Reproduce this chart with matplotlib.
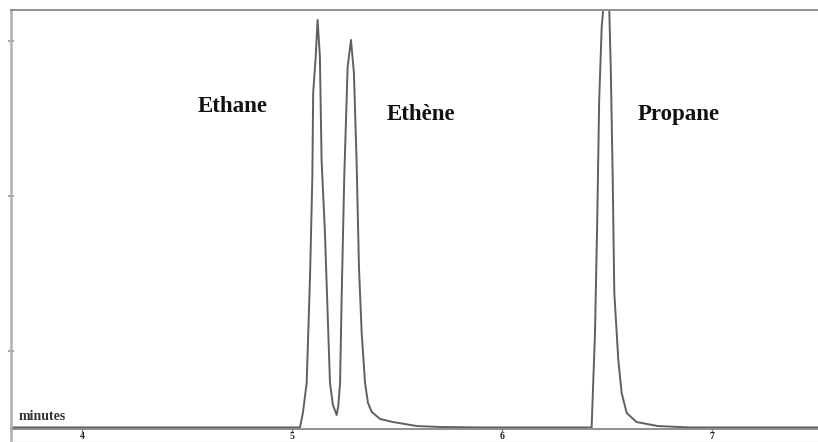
import matplotlib
matplotlib.use("Agg")
import matplotlib.pyplot as plt
from matplotlib.lines import Line2D

# Chromatogram trace (time in minutes, signal in arbitrary units)
time_min = [3.662, 5.038, 5.052, 5.070, 5.086, 5.097, 5.101, 5.113, 5.122, 5.133,
            5.141, 5.157, 5.173, 5.181, 5.195, 5.213, 5.221, 5.229, 5.237, 5.249,
            5.265, 5.281, 5.295, 5.308, 5.319, 5.332, 5.348, 5.362, 5.380, 5.419,
            5.481, 5.595, 5.705, 5.895, 6.427, 6.443, 6.454, 6.463, 6.475, 6.482,
            6.495, 6.511, 6.518, 6.527, 6.535, 6.554, 6.570, 6.594, 6.641, 6.743,
            6.895, 7.505]
signal = [0.010, 0.010, 0.103, 0.297, 0.981, 1.626, 2.168, 2.400, 2.639, 2.400,
          1.735, 1.265, 0.619, 0.297, 0.155, 0.090, 0.155, 0.297, 0.877, 1.626,
          2.335, 2.510, 2.297, 1.716, 1.045, 0.619, 0.297, 0.168, 0.110, 0.065,
          0.045, 0.019, 0.013, 0.010, 0.010, 0.619, 1.368, 2.123, 2.594, 2.703,
          4.060, 2.703, 2.335, 1.652, 0.877, 0.445, 0.232, 0.103, 0.045, 0.019,
          0.010, 0.010]

peak_names = ["Ethane", "Ethène", "Propane"]
label_time = [4.552, 5.452, 6.648]
label_signal = [2.045, 1.994, 1.994]

x_ticks = [4, 5, 6, 7]
y_ticks = [0.5, 1.5, 2.5]

W, H = 818, 442
fig = plt.figure(figsize=(W / 100, H / 100), dpi=100)
ax = fig.add_axes([11 / W, 13 / H, 1 - 11 / W, (429 - 10) / H])

ax.plot(time_min, signal, color="#606060", lw=1.4, solid_joinstyle="round")
ax.set_xlim(3.662, 7.505)
ax.set_ylim(0, 2.703)

for name, tx, ty in zip(peak_names, label_time, label_signal):
    ax.text(tx, ty, name, ha="left", va="baseline", fontsize=16.5,
            fontweight="bold", family="Liberation Serif", color="#111111")

ax.text(3.70, 0.04, "minutes", ha="left", va="bottom", fontsize=10,
        fontweight="bold", family="Liberation Serif", color="#333333")

ax.set_xticks(x_ticks)
ax.set_xticklabels([str(v) for v in x_ticks], fontsize=7, fontweight="bold",
                   family="Liberation Serif", color="#222222")
ax.set_yticks(y_ticks)
ax.set_yticklabels([])
ax.tick_params(axis="x", direction="out", length=2, width=1, color="#777777", pad=0.3)
ax.tick_params(axis="y", direction="inout", length=4, width=1.2, color="#999999")

for side in ["left", "top", "bottom"]:
    ax.spines[side].set_color("#888888")
    ax.spines[side].set_linewidth(1.3)
ax.spines["left"].set_color("#b0b0b0")
ax.spines["left"].set_linewidth(1.8)
ax.spines["right"].set_visible(False)

# left border continues below the time axis, faint frame at bottom
fig.add_artist(Line2D([11 / W, 11 / W], [0, 13 / H], color="#b0b0b0", lw=1.8,
                      transform=fig.transFigure))
fig.add_artist(Line2D([11 / W, 1], [0.5 / H, 0.5 / H], color="#cccccc", lw=1.0,
                      transform=fig.transFigure))

fig.savefig("out.png", dpi=100)
